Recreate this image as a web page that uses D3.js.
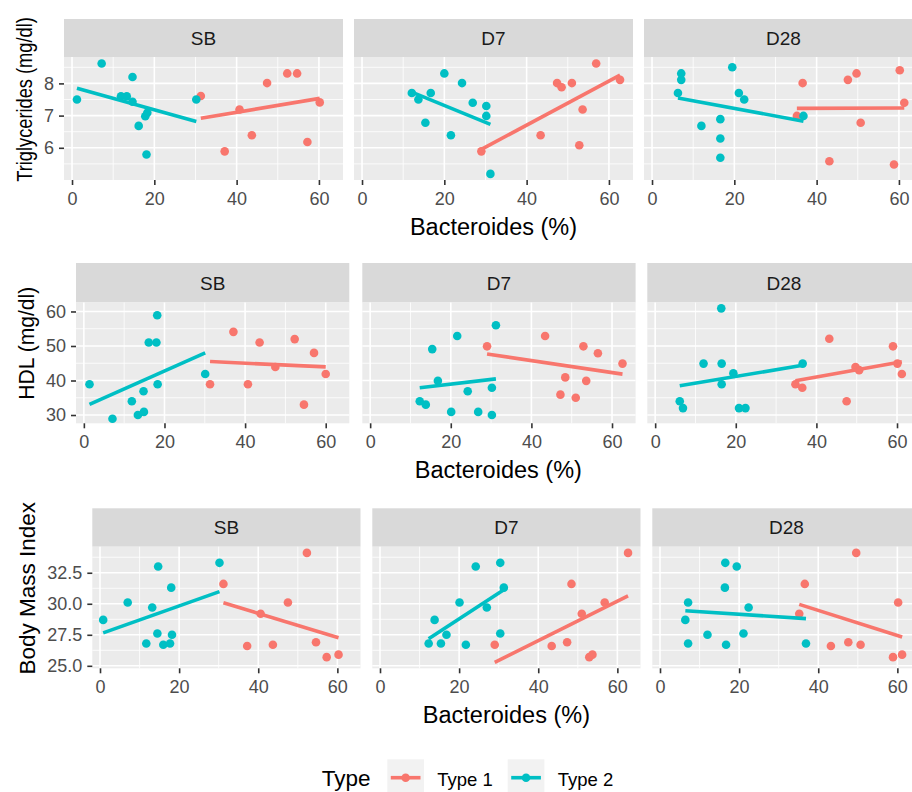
<!DOCTYPE html>
<html>
<head>
  <meta charset="utf-8">
  <title>Bacteroides vs metabolic markers</title>
  <script src="https://d3js.org/d3.v7.min.js"></script>
  <style>
    html, body { margin: 0; padding: 0; background: #fff; overflow: hidden; }
    svg { display: block; font-family: "Liberation Sans", Arial, sans-serif; }
  </style>
</head>
<body>
  <svg width="912" height="792"></svg>
  <script>
    // facets and groups
    const facets = ["SB", "D7", "D28"];
    const types = ["Type 1", "Type 2"];
    const typeColors = ["#F8766D", "#00BFC4"];
    const xTicks = [0, 20, 40, 60];
    const xMinor = [10, 30, 50];
    const xDomain = [-1.95, 65.85];

    // [facet, type, bacteroides %, value]
    const trigPoints = [
      ["SB", "Type 2", 7.2, 8.62], ["SB", "Type 2", 14.7, 8.2], ["SB", "Type 2", 1.2, 7.5],
      ["SB", "Type 2", 11.9, 7.6], ["SB", "Type 2", 13.3, 7.6], ["SB", "Type 2", 14.7, 7.43],
      ["SB", "Type 2", 18.3, 7.09], ["SB", "Type 2", 17.8, 6.98], ["SB", "Type 2", 16.2, 6.68],
      ["SB", "Type 2", 18.1, 5.79], ["SB", "Type 2", 30.2, 7.5],
      ["SB", "Type 1", 31.3, 7.61], ["SB", "Type 1", 40.7, 7.19], ["SB", "Type 1", 47.4, 8.01],
      ["SB", "Type 1", 52.3, 8.31], ["SB", "Type 1", 54.7, 8.31], ["SB", "Type 1", 60.2, 7.41],
      ["SB", "Type 1", 43.7, 6.39], ["SB", "Type 1", 37.1, 5.89], ["SB", "Type 1", 57.2, 6.18],
      ["D7", "Type 2", 12.1, 7.7], ["D7", "Type 2", 13.7, 7.5], ["D7", "Type 2", 16.7, 7.7],
      ["D7", "Type 2", 20.0, 8.31], ["D7", "Type 2", 24.3, 8.01], ["D7", "Type 2", 26.9, 7.4],
      ["D7", "Type 2", 30.2, 7.3], ["D7", "Type 2", 30.2, 6.99], ["D7", "Type 2", 15.4, 6.78],
      ["D7", "Type 2", 21.6, 6.39], ["D7", "Type 2", 31.2, 5.19],
      ["D7", "Type 1", 29.0, 5.89], ["D7", "Type 1", 43.4, 6.39], ["D7", "Type 1", 47.4, 8.01],
      ["D7", "Type 1", 48.5, 7.88], ["D7", "Type 1", 51.0, 8.01], ["D7", "Type 1", 56.9, 8.62],
      ["D7", "Type 1", 62.7, 8.11], ["D7", "Type 1", 53.6, 7.19], ["D7", "Type 1", 52.8, 6.08],
      ["D28", "Type 2", 7.1, 8.31], ["D28", "Type 2", 7.1, 8.11], ["D28", "Type 2", 6.3, 7.7],
      ["D28", "Type 2", 19.5, 8.5], ["D28", "Type 2", 21.1, 7.7], ["D28", "Type 2", 22.4, 7.5],
      ["D28", "Type 2", 16.6, 6.89], ["D28", "Type 2", 12.0, 6.68], ["D28", "Type 2", 16.6, 6.29],
      ["D28", "Type 2", 16.6, 5.69], ["D28", "Type 2", 36.8, 6.99],
      ["D28", "Type 1", 35.2, 6.99], ["D28", "Type 1", 36.6, 8.01], ["D28", "Type 1", 47.6, 8.11],
      ["D28", "Type 1", 49.7, 8.31], ["D28", "Type 1", 60.2, 8.41], ["D28", "Type 1", 61.3, 7.4],
      ["D28", "Type 1", 50.7, 6.78], ["D28", "Type 1", 43.1, 5.58], ["D28", "Type 1", 58.8, 5.48]
    ];

    const hdlPoints = [
      ["SB", "Type 2", 1.4, 38.9], ["SB", "Type 2", 7.1, 28.9], ["SB", "Type 2", 11.9, 34.0],
      ["SB", "Type 2", 13.4, 30.0], ["SB", "Type 2", 14.9, 30.9], ["SB", "Type 2", 14.8, 36.9],
      ["SB", "Type 2", 16.1, 51.0], ["SB", "Type 2", 18.0, 51.0], ["SB", "Type 2", 18.2, 58.9],
      ["SB", "Type 2", 18.3, 38.9], ["SB", "Type 2", 30.1, 41.9],
      ["SB", "Type 1", 31.3, 38.9], ["SB", "Type 1", 37.1, 54.1], ["SB", "Type 1", 43.6, 51.0],
      ["SB", "Type 1", 47.5, 43.9], ["SB", "Type 1", 40.7, 38.9], ["SB", "Type 1", 52.3, 52.0],
      ["SB", "Type 1", 57.1, 48.0], ["SB", "Type 1", 60.0, 41.9], ["SB", "Type 1", 54.6, 33.0],
      ["D7", "Type 2", 12.3, 34.0], ["D7", "Type 2", 13.8, 33.0], ["D7", "Type 2", 15.4, 49.1],
      ["D7", "Type 2", 16.8, 39.9], ["D7", "Type 2", 21.6, 52.9], ["D7", "Type 2", 20.1, 30.9],
      ["D7", "Type 2", 24.2, 36.9], ["D7", "Type 2", 26.8, 30.9], ["D7", "Type 2", 30.2, 37.9],
      ["D7", "Type 2", 30.2, 30.0], ["D7", "Type 2", 31.2, 56.0],
      ["D7", "Type 1", 29.0, 49.9], ["D7", "Type 1", 43.4, 52.9], ["D7", "Type 1", 52.9, 49.9],
      ["D7", "Type 1", 56.5, 47.9], ["D7", "Type 1", 62.6, 44.9], ["D7", "Type 1", 48.4, 40.9],
      ["D7", "Type 1", 53.6, 39.9], ["D7", "Type 1", 47.2, 35.9], ["D7", "Type 1", 51.0, 35.0],
      ["D28", "Type 2", 6.1, 34.0], ["D28", "Type 2", 6.9, 32.0], ["D28", "Type 2", 12.0, 44.9],
      ["D28", "Type 2", 16.4, 60.9], ["D28", "Type 2", 16.5, 44.9], ["D28", "Type 2", 16.5, 38.9],
      ["D28", "Type 2", 19.4, 42.1], ["D28", "Type 2", 20.8, 32.0], ["D28", "Type 2", 22.4, 32.0],
      ["D28", "Type 2", 36.6, 44.9],
      ["D28", "Type 1", 34.8, 38.9], ["D28", "Type 1", 36.5, 37.9], ["D28", "Type 1", 43.2, 52.1],
      ["D28", "Type 1", 47.5, 34.0], ["D28", "Type 1", 49.7, 43.9], ["D28", "Type 1", 50.6, 43.0],
      ["D28", "Type 1", 59.0, 49.9], ["D28", "Type 1", 60.1, 44.9], ["D28", "Type 1", 61.2, 41.9]
    ];

    const bmiPoints = [
      ["SB", "Type 2", 0.8, 28.7], ["SB", "Type 2", 7.0, 30.1], ["SB", "Type 2", 13.2, 29.7],
      ["SB", "Type 2", 14.7, 33.0], ["SB", "Type 2", 18.0, 31.3], ["SB", "Type 2", 30.2, 33.3],
      ["SB", "Type 2", 14.5, 27.6], ["SB", "Type 2", 18.2, 27.5], ["SB", "Type 2", 11.7, 26.8],
      ["SB", "Type 2", 16.0, 26.7], ["SB", "Type 2", 17.7, 26.8],
      ["SB", "Type 1", 31.2, 31.6], ["SB", "Type 1", 52.3, 34.1], ["SB", "Type 1", 47.5, 30.1],
      ["SB", "Type 1", 40.6, 29.2], ["SB", "Type 1", 37.2, 26.6], ["SB", "Type 1", 43.7, 26.7],
      ["SB", "Type 1", 54.6, 26.9], ["SB", "Type 1", 57.3, 25.7], ["SB", "Type 1", 60.3, 25.9],
      ["D7", "Type 2", 12.3, 26.8], ["D7", "Type 2", 13.8, 28.7], ["D7", "Type 2", 15.4, 26.8],
      ["D7", "Type 2", 16.8, 27.5], ["D7", "Type 2", 20.1, 30.1], ["D7", "Type 2", 21.7, 26.7],
      ["D7", "Type 2", 24.2, 33.0], ["D7", "Type 2", 27.0, 29.7], ["D7", "Type 2", 30.4, 33.3],
      ["D7", "Type 2", 30.4, 27.6], ["D7", "Type 2", 31.3, 31.3],
      ["D7", "Type 1", 29.0, 26.7], ["D7", "Type 1", 43.4, 26.6], ["D7", "Type 1", 47.3, 26.9],
      ["D7", "Type 1", 48.4, 31.6], ["D7", "Type 1", 51.0, 29.2], ["D7", "Type 1", 56.8, 30.1],
      ["D7", "Type 1", 62.7, 34.1], ["D7", "Type 1", 52.9, 25.7], ["D7", "Type 1", 53.7, 25.9],
      ["D28", "Type 2", 7.1, 30.1], ["D28", "Type 2", 6.4, 28.7], ["D28", "Type 2", 7.1, 26.8],
      ["D28", "Type 2", 12.0, 27.5], ["D28", "Type 2", 16.5, 33.3], ["D28", "Type 2", 19.4, 33.0],
      ["D28", "Type 2", 16.4, 31.3], ["D28", "Type 2", 22.4, 29.7], ["D28", "Type 2", 16.7, 26.7],
      ["D28", "Type 2", 21.1, 27.6], ["D28", "Type 2", 36.9, 26.8],
      ["D28", "Type 1", 35.2, 29.2], ["D28", "Type 1", 36.6, 31.6], ["D28", "Type 1", 43.2, 26.6],
      ["D28", "Type 1", 47.6, 26.9], ["D28", "Type 1", 49.6, 34.1], ["D28", "Type 1", 50.7, 26.7],
      ["D28", "Type 1", 58.9, 25.7], ["D28", "Type 1", 60.2, 30.1], ["D28", "Type 1", 61.2, 25.9]
    ];

    const trigTicks = [6, 7, 8];
    const hdlTicks = [30, 40, 50, 60];
    const bmiTicks = [25, 27.5, 30, 32.5];

    // one ggplot per row, stacked
    const rows = [
      { data: trigPoints, title: "Triglycerides (mg/dl)", ticks: trigTicks, fmt: d3.format("d"),
        yDomain: [5.0, 8.82], stripTop: 19, top: 57, bottom: 180,
        lefts: [64, 354, 644], width: 279, titleX: 24, titleSize: 22, squeeze: 0.83 },
      { data: hdlPoints, title: "HDL (mg/dl)", ticks: hdlTicks, fmt: d3.format("d"),
        yDomain: [27.6, 62.6], stripTop: 263, top: 302.5, bottom: 423.3,
        lefts: [76, 362.3, 647.3], width: 273.3, titleX: 26, titleSize: 22, squeeze: 0.96 },
      { data: bmiPoints, title: "Body Mass Index", ticks: bmiTicks, fmt: d3.format(".1f"),
        yDomain: [24.8, 34.6], stripTop: 508.3, top: 546.7, bottom: 668.3,
        lefts: [92.3, 372.3, 652.3], width: 268.2, titleX: 27, titleSize: 22.5, squeeze: 1 }
    ];

    const svg = d3.select("svg");

    function fit(pts) {
      const mx = d3.mean(pts, d => d[2]), my = d3.mean(pts, d => d[3]);
      const sxy = d3.sum(pts, d => (d[2] - mx) * (d[3] - my));
      const sxx = d3.sum(pts, d => (d[2] - mx) * (d[2] - mx));
      const b = sxy / sxx;
      const [x0, x1] = d3.extent(pts, d => d[2]);
      return [[x0, my + b * (x0 - mx)], [x1, my + b * (x1 - mx)]];
    }

    rows.forEach(row => {
      const y = d3.scaleLinear().domain(row.yDomain).range([row.bottom, row.top]);
      const step = row.ticks[1] - row.ticks[0];
      const yMinor = row.ticks.map(t => t - step / 2).concat([row.ticks[row.ticks.length - 1] + step / 2])
        .filter(v => v > row.yDomain[0] && v < row.yDomain[1]);

      facets.forEach((f, i) => {
        const left = row.lefts[i];
        const x = d3.scaleLinear().domain(xDomain).range([left, left + row.width]);
        const g = svg.append("g");

        // strip
        g.append("rect").attr("x", left).attr("y", row.stripTop)
          .attr("width", row.width).attr("height", row.top - row.stripTop).attr("fill", "#D9D9D9");
        g.append("text").attr("x", left + row.width / 2).attr("y", (row.stripTop + row.top) / 2)
          .attr("dy", "0.36em").attr("text-anchor", "middle")
          .attr("font-size", 19).attr("fill", "#1A1A1A").text(f);

        // panel
        g.append("rect").attr("x", left).attr("y", row.top)
          .attr("width", row.width).attr("height", row.bottom - row.top).attr("fill", "#EBEBEB");
        g.selectAll(".ymin").data(yMinor).join("line")
          .attr("x1", left).attr("x2", left + row.width)
          .attr("y1", d => y(d)).attr("y2", d => y(d))
          .attr("stroke", "#fff").attr("stroke-width", 0.8);
        g.selectAll(".xmin").data(xMinor).join("line")
          .attr("y1", row.top).attr("y2", row.bottom)
          .attr("x1", d => x(d)).attr("x2", d => x(d))
          .attr("stroke", "#fff").attr("stroke-width", 0.8);
        g.selectAll(".ymaj").data(row.ticks).join("line")
          .attr("x1", left).attr("x2", left + row.width)
          .attr("y1", d => y(d)).attr("y2", d => y(d))
          .attr("stroke", "#fff").attr("stroke-width", 1.6);
        g.selectAll(".xmaj").data(xTicks).join("line")
          .attr("y1", row.top).attr("y2", row.bottom)
          .attr("x1", d => x(d)).attr("x2", d => x(d))
          .attr("stroke", "#fff").attr("stroke-width", 1.6);

        // x axis
        const xa = g.append("g").attr("transform", `translate(0,${row.bottom})`)
          .call(d3.axisBottom(x).tickValues(xTicks).tickSize(5).tickPadding(7));
        xa.select(".domain").remove();
        xa.selectAll(".tick line").attr("stroke", "#333").attr("stroke-width", 1.6);
        xa.selectAll(".tick text").attr("font-size", 18).attr("fill", "#4D4D4D")
          .attr("font-family", "Liberation Sans, Arial, sans-serif");

        // y axis only on first facet
        if (i === 0) {
          const ya = g.append("g").attr("transform", `translate(${left},0)`)
            .call(d3.axisLeft(y).tickValues(row.ticks).tickFormat(row.fmt).tickSize(5).tickPadding(5));
          ya.select(".domain").remove();
          ya.selectAll(".tick line").attr("stroke", "#333").attr("stroke-width", 1.6);
          ya.selectAll(".tick text").attr("font-size", 18).attr("fill", "#4D4D4D")
            .attr("font-family", "Liberation Sans, Arial, sans-serif");
        }

        // points and lines per type
        types.forEach((t, k) => {
          const pts = row.data.filter(d => d[0] === f && d[1] === t);
          g.selectAll(null).data(pts).join("circle")
            .attr("cx", d => x(d[2])).attr("cy", d => y(d[3])).attr("r", 4.3)
            .attr("fill", typeColors[k]);
          const line = fit(pts);
          g.append("line")
            .attr("x1", x(line[0][0])).attr("y1", y(line[0][1]))
            .attr("x2", x(line[1][0])).attr("y2", y(line[1][1]))
            .attr("stroke", typeColors[k]).attr("stroke-width", 3.6);
        });
      });

      // axis titles
      const full0 = row.lefts[0], full1 = row.lefts[2] + row.width;
      svg.append("text").attr("x", (full0 + full1) / 2).attr("y", row.bottom + 55)
        .attr("text-anchor", "middle").attr("font-size", 23.5).attr("fill", "#000")
        .text("Bacteroides (%)");
      svg.append("text")
        .attr("transform", `translate(${row.titleX},${(row.stripTop + row.bottom) / 2}) rotate(-90) scale(${row.squeeze},1)`)
        .attr("text-anchor", "middle").attr("dy", "0.36em")
        .attr("font-size", row.titleSize).attr("fill", "#000").text(row.title);
    });

    // legend
    const legend = svg.append("g");
    legend.append("text").attr("x", 321.7).attr("y", 786).attr("font-size", 22.5).text("Type");
    const keyX = [387.3, 507.7];
    types.forEach((t, k) => {
      legend.append("rect").attr("x", keyX[k]).attr("y", 759.3)
        .attr("width", 36.7).attr("height", 36.7).attr("fill", "#F2F2F2");
      legend.append("line").attr("x1", keyX[k] + 3.5).attr("x2", keyX[k] + 33.2)
        .attr("y1", 777.7).attr("y2", 777.7)
        .attr("stroke", typeColors[k]).attr("stroke-width", 3.6);
      legend.append("circle").attr("cx", keyX[k] + 18.35).attr("cy", 777.7).attr("r", 4.3)
        .attr("fill", typeColors[k]);
      legend.append("text").attr("x", keyX[k] + 50).attr("y", 786)
        .attr("font-size", 18.5).attr("fill", "#000").text(t);
    });
  </script>
</body>
</html>
